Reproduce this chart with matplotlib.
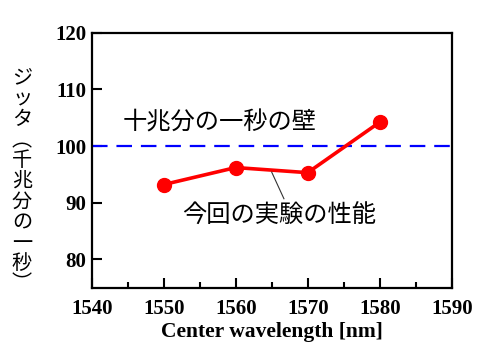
import matplotlib
matplotlib.use('Agg')
import matplotlib.pyplot as plt
from matplotlib.ticker import MultipleLocator

# data
wavelength = [1550, 1560, 1570, 1580]
jitter_fs = [93.2, 96.2, 95.3, 104.2]
wall_fs = 100

ylabel_chars = ['ジ', 'ッ', 'タ', '︵', '千', '兆', '分', 'の', '一', '秒', '︶']
wall_label = '十兆分の一秒の壁'
result_label = '今回の実験の性能'
xlabel = 'Center wavelength [nm]'

jp_font = ['Noto Sans CJK JP', 'DejaVu Sans']
num_font = 'Liberation Serif'

fig = plt.figure(figsize=(4.89, 3.63), dpi=100)
ax = fig.add_axes([0.1875, 0.2074, 0.7362, 0.7026])

ax.axhline(wall_fs, color='#0000ff', lw=1.6, dashes=(7, 4))
ax.plot(wavelength, jitter_fs, '-o', color='#ff0000', lw=2.6, markersize=10)

ax.set_xlim(1540, 1590)
ax.set_ylim(75, 120)
ax.xaxis.set_major_locator(MultipleLocator(10))
ax.xaxis.set_minor_locator(MultipleLocator(5))
ax.set_yticks([80, 90, 100, 110, 120])

ax.tick_params(which='both', direction='in', width=1.5)
ax.tick_params(which='major', length=7)
ax.tick_params(which='minor', length=4)
ax.tick_params(axis='x', pad=8)
ax.tick_params(axis='y', pad=4)
for lbl in ax.get_xticklabels() + ax.get_yticklabels():
    lbl.set_fontfamily(num_font)
    lbl.set_fontweight('bold')
    lbl.set_fontsize(15)
for sp in ax.spines.values():
    sp.set_linewidth(1.6)

ax.set_xlabel(xlabel, fontfamily=num_font, fontweight='bold', fontsize=15.5, labelpad=2)

# vertical japanese y label, one character per line
fig.text(22 / 489, 0.50, '\n'.join(ylabel_chars), family=jp_font, fontsize=14.5,
         ha='center', va='center', linespacing=0.97)

ax.text(1544.3, 104.2, wall_label, family=jp_font, fontsize=17.5,
        ha='left', va='center')
ax.text(1552.5, 87.7, result_label, family=jp_font, fontsize=17.5,
        ha='left', va='center')
ax.plot([1565, 1566.7], [95.4, 90.7], color='#333333', lw=0.8)

fig.savefig('out.png', dpi=100)
